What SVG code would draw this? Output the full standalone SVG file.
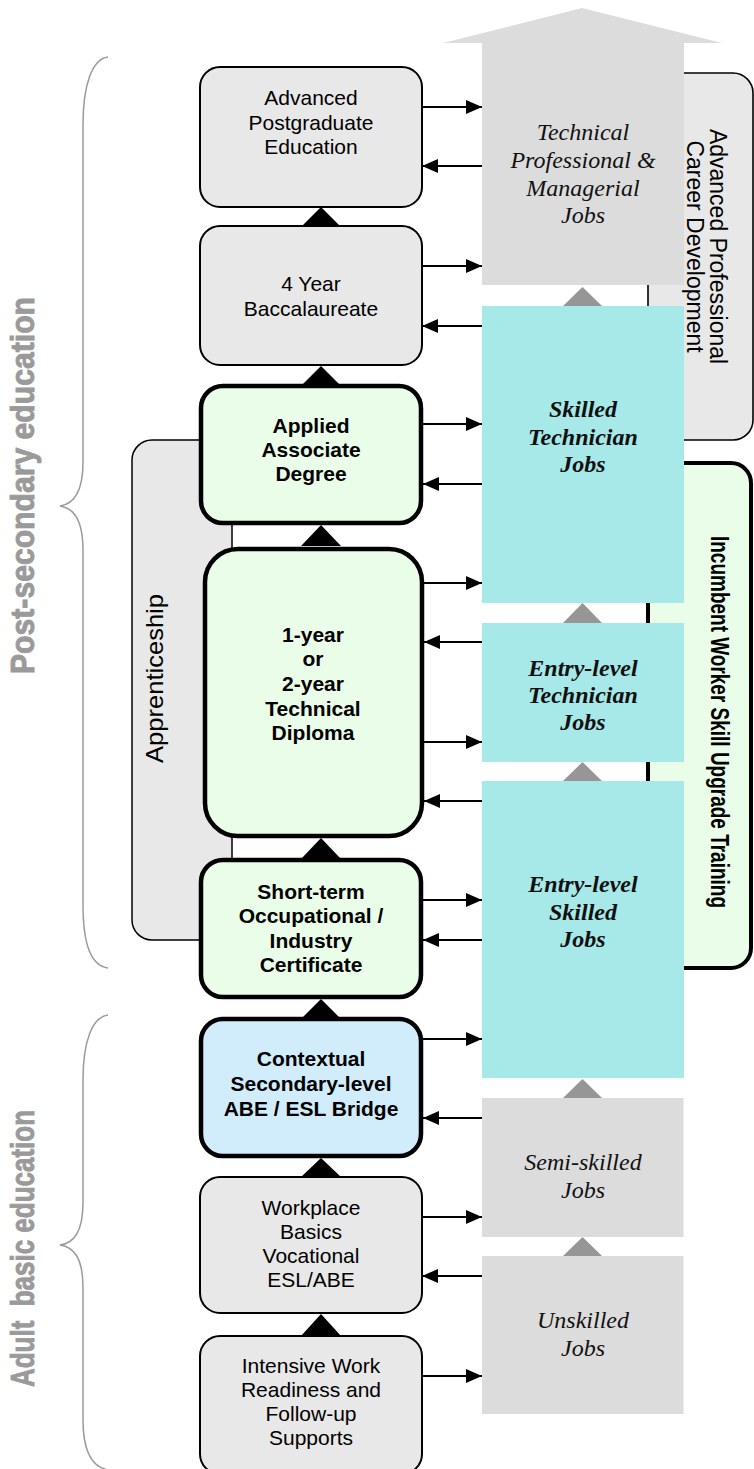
<svg xmlns="http://www.w3.org/2000/svg" width="754" height="1469" viewBox="0 0 754 1469">
<defs>
<style>
.edu{font-family:"Liberation Sans",Arial,sans-serif;font-size:21px;text-anchor:middle;fill:#000}
.b{font-weight:bold}
.job{font-family:"Liberation Serif","Times New Roman",serif;font-size:24px;font-style:italic;text-anchor:middle;fill:#111}
.jb{font-weight:bold}
.thin{stroke:#000;stroke-width:2}
.thick{stroke:#000;stroke-width:4.5}
.gray{fill:#e8e8e8}
.green{fill:#eafde9}
.blue{fill:#d1edfc}
.cyan{fill:#a7e9e8}
.jgray{fill:#dcdcdc}
.tri{fill:#000}
.gtri{fill:#969696}
.side{font-family:"Liberation Sans",Arial,sans-serif;font-weight:bold;fill:#9a9a9a;stroke:#9a9a9a;stroke-width:0.9;text-anchor:middle}
.brace{fill:none;stroke:#9a9a9a;stroke-width:1.5}
.panel{font-family:"Liberation Sans",Arial,sans-serif;text-anchor:middle;fill:#000}
#connectors line{stroke:#000;stroke-width:2;marker-end:url(#ah)}
</style>
<marker id="ah" markerUnits="userSpaceOnUse" markerWidth="16" markerHeight="14" refX="16" refY="7" orient="auto"><path d="M0,0 L16,7 L0,14 z" fill="#000"/></marker>
</defs>

<!-- side labels and braces -->
<g id="post-secondary">
<path class="brace" d="M108,57 C92,59 83,85 83,125 L83,462 C83,492 74,504 60,506 C74,508 83,520 83,550 L83,905 C83,945 92,966 108,968"/>
<text class="side" font-size="34" textLength="377" lengthAdjust="spacingAndGlyphs" transform="translate(34,485.5) rotate(-90)">Post-secondary education</text>
</g>
<g id="adult-basic">
<path class="brace" d="M108,1015 C92,1017 83,1042 83,1080 L83,1202 C83,1232 74,1243 60,1245 C74,1247 83,1258 83,1288 L83,1420 C83,1450 92,1467 108,1470"/>
<text class="side" font-size="33" textLength="277" lengthAdjust="spacingAndGlyphs" xml:space="preserve" transform="translate(34,1248.5) rotate(-90)">Adult  basic education</text>
</g>

<!-- background panels -->
<g id="advanced-professional">
<rect x="648" y="73" width="105" height="367" rx="20" fill="#e8e8e8" stroke="#000" stroke-width="1.6"/>
<text class="panel" font-size="23" transform="translate(710,246.5) rotate(90)">Advanced Professional<tspan x="0" dy="23">Career Development</tspan></text>
</g>
<g id="incumbent">
<rect x="648" y="463" width="103" height="505" rx="20" fill="#eafde9" stroke="#000" stroke-width="4"/>
<text class="panel" font-weight="bold" font-size="25" textLength="372" lengthAdjust="spacingAndGlyphs" transform="translate(711,722) rotate(90)">Incumbent Worker Skill Upgrade Training</text>
</g>
<g id="apprenticeship">
<rect x="132" y="440" width="100" height="500" rx="20" fill="#e8e8e8" stroke="#000" stroke-width="1.5"/>
<text class="panel" font-size="24" textLength="169" lengthAdjust="spacingAndGlyphs" transform="translate(163,678.5) rotate(-90)">Apprenticeship</text>
</g>

<!-- job ladder -->
<g id="job-technical">
<polygon class="jgray" points="482,285 482,43 443,43 582,8 722,43 684,43 684,285"/>
<text class="job" x="583" y="140">Technical<tspan x="583" dy="28">Professional &amp;</tspan><tspan x="583" dy="28">Managerial</tspan><tspan x="583" dy="27">Jobs</tspan></text>
</g>
<g id="job-skilled-tech">
<polygon class="gtri" points="563,306 602,306 582.5,287"/>
<rect class="cyan" x="482" y="306" width="202" height="297"/>
<text class="job jb" x="583" y="417">Skilled<tspan x="583" dy="28">Technician</tspan><tspan x="583" dy="27">Jobs</tspan></text>
</g>
<g id="job-entry-tech">
<polygon class="gtri" points="563,623 602,623 582.5,603"/>
<rect class="cyan" x="482" y="623" width="202" height="139"/>
<text class="job jb" x="583" y="676">Entry-level<tspan x="583" dy="27">Technician</tspan><tspan x="583" dy="27">Jobs</tspan></text>
</g>
<g id="job-entry-skilled">
<polygon class="gtri" points="563,781 602,781 582.5,762"/>
<rect class="cyan" x="482" y="781" width="202" height="297"/>
<text class="job jb" x="583" y="892">Entry-level<tspan x="583" dy="28">Skilled</tspan><tspan x="583" dy="27">Jobs</tspan></text>
</g>
<g id="job-semi">
<polygon class="gtri" points="563,1098 602,1098 582.5,1079"/>
<rect class="jgray" x="482" y="1098" width="201.5" height="139"/>
<text class="job" x="583" y="1170">Semi-skilled<tspan x="583" dy="28">Jobs</tspan></text>
</g>
<g id="job-unskilled">
<polygon class="gtri" points="563,1256 602,1256 582.5,1237"/>
<rect class="jgray" x="482" y="1256" width="201.5" height="158"/>
<text class="job" x="583" y="1328">Unskilled<tspan x="583" dy="28">Jobs</tspan></text>
</g>

<!-- education ladder -->
<g id="edu-postgrad">
<rect class="gray thin" x="200" y="67" width="222" height="140" rx="20"/>
<text class="edu" x="311" y="104.5">Advanced<tspan x="311" dy="25">Postgraduate</tspan><tspan x="311" dy="24">Education</tspan></text>
</g>
<g id="edu-bacc">
<polygon class="tri" points="301,227 341,227 321,207"/>
<rect class="gray thin" x="200" y="226" width="222" height="139" rx="20"/>
<text class="edu" x="311" y="290.5">4 Year<tspan x="311" dy="25">Baccalaureate</tspan></text>
</g>
<g id="edu-associate">
<polygon class="tri" points="301,386 341,386 321,366"/>
<rect class="green thick" x="201" y="386" width="220" height="137" rx="22"/>
<text class="edu b" x="311" y="432.5">Applied<tspan x="311" dy="24">Associate</tspan><tspan x="311" dy="24">Degree</tspan></text>
</g>
<g id="edu-diploma">
<polygon class="tri" points="301,546 341,546 321,525"/>
<rect class="green thick" x="205" y="549" width="217" height="287" rx="33"/>
<text class="edu b" x="313" y="641.5">1-year<tspan x="313" dy="24">or</tspan><tspan x="313" dy="25">2-year</tspan><tspan x="313" dy="25">Technical</tspan><tspan x="313" dy="24">Diploma</tspan></text>
</g>
<g id="edu-certificate">
<polygon class="tri" points="301,859 341,859 321,838"/>
<rect class="green thick" x="201" y="860" width="220" height="137" rx="22"/>
<text class="edu b" x="311" y="898.5">Short-term<tspan x="311" dy="24">Occupational /</tspan><tspan x="311" dy="25">Industry</tspan><tspan x="311" dy="24">Certificate</tspan></text>
</g>
<g id="edu-bridge">
<polygon class="tri" points="301,1019 341,1019 321,999"/>
<rect class="blue thick" x="201" y="1019" width="220" height="137" rx="22"/>
<text class="edu b" x="311" y="1065.5">Contextual<tspan x="311" dy="25">Secondary-level</tspan><tspan x="311" dy="25">ABE / ESL Bridge</tspan></text>
</g>
<g id="edu-workplace">
<polygon class="tri" points="301,1177 341,1177 321,1158"/>
<rect class="gray thin" x="200" y="1177" width="222" height="136" rx="20"/>
<text class="edu" x="311" y="1214.5">Workplace<tspan x="311" dy="24">Basics</tspan><tspan x="311" dy="24">Vocational</tspan><tspan x="311" dy="24">ESL/ABE</tspan></text>
</g>
<g id="edu-readiness">
<polygon class="tri" points="301,1336 341,1336 321,1314"/>
<rect class="gray thin" x="200" y="1336" width="222" height="138" rx="20"/>
<text class="edu" x="311" y="1372.5">Intensive Work<tspan x="311" dy="24">Readiness and</tspan><tspan x="311" dy="24">Follow-up</tspan><tspan x="311" dy="24">Supports</tspan></text>
</g>

<!-- connectors -->
<g id="connectors">
<line x1="422" y1="107" x2="482" y2="107"/>
<line x1="482" y1="166" x2="422" y2="166"/>
<line x1="422" y1="266" x2="482" y2="266"/>
<line x1="482" y1="326" x2="422" y2="326"/>
<line x1="422" y1="424" x2="482" y2="424"/>
<line x1="482" y1="484" x2="423" y2="484"/>
<line x1="424" y1="583" x2="482" y2="583"/>
<line x1="482" y1="642" x2="424" y2="642"/>
<line x1="424" y1="742" x2="482" y2="742"/>
<line x1="482" y1="801" x2="424" y2="801"/>
<line x1="422" y1="900" x2="482" y2="900"/>
<line x1="482" y1="940" x2="423" y2="940"/>
<line x1="422" y1="1039" x2="482" y2="1039"/>
<line x1="482" y1="1118" x2="423" y2="1118"/>
<line x1="422" y1="1217" x2="482" y2="1217"/>
<line x1="482" y1="1276" x2="422" y2="1276"/>
<line x1="422" y1="1376" x2="482" y2="1376"/>
</g>
</svg>
